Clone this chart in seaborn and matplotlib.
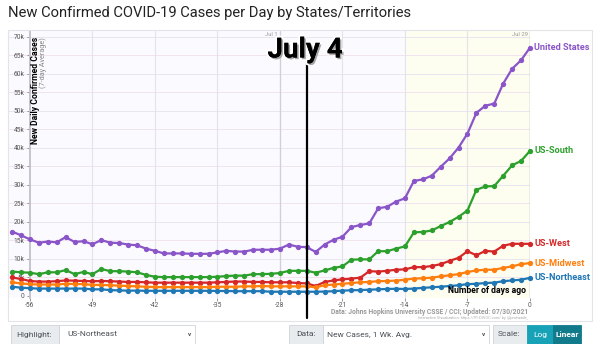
import matplotlib
matplotlib.use("Agg")
import matplotlib.pyplot as plt
import matplotlib.patheffects as pe
from matplotlib.patches import Rectangle
import numpy as np
import pandas as pd
import seaborn as sns

# ---------------- data (thousands of cases, 7-day avg) ----------------
days = list(range(-58, 1))
united_states = [17.4, 16.4, 15.3, 14.4, 14.7, 14.5, 15.9, 14.6, 14.8, 14.0,
                 15.1, 14.4, 14.3, 13.9, 13.7, 12.8, 12.2, 11.5, 11.5, 11.5,
                 11.4, 11.4, 11.4, 11.8, 12.2, 12.0, 12.0, 12.5, 12.5, 12.5,
                 12.8, 13.9, 13.3, 13.2, 11.9, 13.9, 15.2, 16.0, 18.6, 19.2,
                 19.6, 23.7, 24.1, 25.5, 26.4, 31.1, 31.5, 32.5, 34.9, 37.2,
                 40.1, 43.9, 49.5, 51.4, 52.0, 57.4, 61.4, 63.7, 67.1]
us_south = [6.6, 6.4, 6.3, 5.9, 6.4, 6.4, 7.0, 5.9, 6.5, 5.9,
            7.3, 6.7, 6.7, 6.6, 6.4, 5.7, 5.2, 5.1, 5.1, 5.1,
            5.1, 5.1, 5.1, 5.2, 5.4, 5.5, 5.5, 5.9, 5.9, 6.0,
            6.2, 6.8, 6.8, 6.8, 6.3, 6.9, 7.6, 8.0, 9.8, 9.9,
            9.9, 12.1, 12.1, 12.8, 13.4, 17.2, 17.3, 17.7, 18.9, 20.0,
            21.4, 23.1, 28.7, 29.6, 29.7, 32.5, 35.3, 36.5, 39.2]
us_west = [5.0, 4.6, 4.05, 3.9, 3.9, 4.0, 4.2, 4.15, 4.05, 4.0,
           4.05, 4.0, 3.9, 3.8, 3.8, 3.7, 3.6, 3.6, 3.6, 3.6,
           3.6, 3.6, 3.6, 3.7, 3.8, 3.9, 3.9, 3.8, 3.8, 3.7,
           3.7, 3.7, 3.5, 3.4, 2.7, 3.8, 4.2, 4.5, 4.7, 4.95,
           6.7, 6.6, 6.8, 7.1, 7.2, 7.8, 7.8, 8.1, 8.6, 9.5,
           10.3, 12.1, 11.0, 12.2, 12.0, 13.6, 14.1, 14.1, 14.1]
us_midwest = [3.7, 3.4, 3.2, 3.1, 3.1, 3.1, 3.3, 3.25, 3.2, 3.0,
              3.0, 2.9, 2.8, 2.7, 2.6, 2.5, 2.4, 2.4, 2.4, 2.4,
              2.4, 2.4, 2.4, 2.5, 2.5, 2.5, 2.6, 2.6, 2.7, 2.6,
              2.6, 2.6, 2.6, 2.6, 2.35, 2.9, 3.1, 3.3, 3.5, 3.7,
              3.8, 4.0, 4.05, 4.15, 4.4, 4.7, 4.8, 4.95, 5.3, 5.6,
              5.9, 6.5, 6.9, 7.1, 7.1, 7.6, 8.0, 8.6, 8.9]
us_northeast = [2.5, 2.25, 2.1, 2.0, 2.0, 2.0, 2.0, 2.0, 2.0, 1.8,
                1.8, 1.6, 1.5, 1.45, 1.45, 1.4, 1.4, 1.4, 1.4, 1.4,
                1.4, 1.4, 1.4, 1.35, 1.35, 1.3, 1.3, 1.3, 1.3, 1.15,
                1.15, 1.15, 1.15, 1.15, 1.15, 1.2, 1.3, 1.45, 1.55, 1.6,
                1.7, 1.8, 1.9, 1.95, 1.9, 2.0, 2.2, 2.35, 2.5, 2.7,
                2.9, 3.2, 3.3, 3.5, 3.6, 4.0, 4.2, 4.4, 4.9]
series_names = ["United States", "US-South", "US-West", "US-Midwest", "US-Northeast"]
series_values = [united_states, us_south, us_west, us_midwest, us_northeast]
series_colors = ["#8a55c8", "#2ca02c", "#d62728", "#ff7f0e", "#1f77b4"]
y_ticks = list(range(0, 75, 5))
y_tick_labels = ["0"] + [f"{v}k" for v in y_ticks[1:]]
x_ticks = [-56, -49, -42, -35, -28, -21, -14, -7, 0]

rows = []
for name, vals in zip(series_names, series_values):
    assert len(vals) == len(days)
    for d, v in zip(days, vals):
        rows.append({"day": d, "cases": v, "region": name})
df = pd.DataFrame(rows)

# ---------------- figure ----------------
sns.set_theme(style="white")
plt.rcParams["font.family"] = ["Roboto", "DejaVu Sans"]

W, H = 600, 344
fig = plt.figure(figsize=(6, 3.44), dpi=100)
fig.patch.set_facecolor("white")

def fx(px):
    return px / W

def fy(py):
    return 1 - py / H

# card outline
fig.patches.append(Rectangle((fx(8), fy(321)), fx(592) - fx(8), fy(30) - fy(321),
                             transform=fig.transFigure, facecolor="none",
                             edgecolor="#e4e4e8", lw=0.8, zorder=0))

ax_left, ax_right, ax_top, ax_bot = 8.5, 530, 31, 297.85
ax = fig.add_axes([fx(ax_left), fy(ax_bot), fx(ax_right) - fx(ax_left), fy(ax_top) - fy(ax_bot)])
ax.set_facecolor("#fbfaff")
ax.set_xlim(-58.4, 0)
ax.set_ylim(-0.5, 71.6)

# shaded last 14 days
ax.axvspan(-14, 0, color="#fdfdf0", zorder=0, lw=0)

# grid lines
for v in y_ticks[1:]:
    ax.axhline(v, color="#f2e4ee" if v % 10 else "#e8e6ee", lw=0.7, zorder=0.5)
for d in x_ticks[1:-1]:
    ax.axvline(d, color="#e4e2ea", lw=0.8, zorder=0.5)
ax.axvline(-28, color="#d0d0d6", lw=0.9, zorder=0.6)
ax.axvline(0, color="#a8a8b0", lw=1.0, zorder=0.6)

sns.lineplot(data=df, x="day", y="cases", hue="region", hue_order=series_names,
             palette=dict(zip(series_names, series_colors)), marker="o",
             markersize=3.8, markeredgewidth=0, linewidth=1.6, legend=False,
             ax=ax, clip_on=False, zorder=3)

# axes styling
for s in ["top", "right", "bottom"]:
    ax.spines[s].set_visible(False)
ax.spines["left"].set_position(("data", -56))
ax.spines["left"].set_color("#c4c4cc")
ax.spines["left"].set_linewidth(1.4)
ax.set_yticks(y_ticks)
ax.set_yticklabels(y_tick_labels)
ax.set_xticks(x_ticks)
ax.set_xticklabels([str(t) for t in x_ticks])
ax.tick_params(axis="y", length=2.5, width=0.6, colors="#888888", labelsize=4.8,
               pad=1.5, labelcolor="#555555", left=True)
ax.tick_params(axis="x", length=2.0, width=0.6, colors="#888888", labelsize=4.8,
               pad=1.0, labelcolor="#555555", bottom=True)
ax.set_xlabel("")
ax.set_ylabel("")

# y-axis titles
fig.text(fx(35), fy(37), "New Daily Confirmed Cases", rotation=90, ha="center", va="top",
         fontsize=6.2, fontweight="bold", color="black")
fig.text(fx(43), fy(37), "(7-day Average)", rotation=90, ha="center", va="top",
         fontsize=5.2, color="#888888")

# end labels
for name, vals, col in zip(series_names, series_values, series_colors):
    ax.text(0.45, vals[-1], name, color=col, fontsize=6.6, fontweight="bold",
            va="center", ha="left", clip_on=False)

# date markers
ax.text(-28.25, 71.4, "Jul 1", ha="right", va="top", fontsize=4.2, color="#999999")
ax.text(-0.25, 71.4, "Jul 29", ha="right", va="top", fontsize=4.2, color="#999999")

ax.text(-0.4, 1.55, "Number of days ago", ha="right", va="center", fontsize=6.2,
        fontweight="bold", color="black", zorder=5)

# July 4 line and label
frac_top = (ax_bot - 62) / (ax_bot - ax_top)
frac_bot = (ax_bot - 318) / (ax_bot - ax_top)
ax.axvline(-25, ymin=frac_bot, ymax=frac_top, color="black", lw=1.6, clip_on=False, zorder=6)
t = fig.text(fx(305), fy(50), "July 4", ha="center", va="center", fontsize=20,
             fontweight="bold", color="black", zorder=7)
t.set_path_effects([pe.withStroke(linewidth=3, foreground="white"),
                    pe.SimplePatchShadow(offset=(1.2, -1.2), alpha=0.35),
                    pe.Normal()])

# title
fig.text(fx(8), fy(13), "New Confirmed COVID-19 Cases per Day by States/Territories",
         ha="left", va="center", fontsize=10.6, color="#222222")

# source text
fig.text(fx(528), fy(312.5), "Data: Johns Hopkins University CSSE / CCI; Updated: 07/30/2021",
         ha="right", va="center", fontsize=4.9, color="#9a9a9a", fontweight="bold")
fig.text(fx(528), fy(318.5), "Interactive Visualization: https://91-DIVOC.com/ by @profwade_",
         ha="right", va="center", fontsize=2.8, color="#aaaaaa")

# bottom controls
def box(x0, x1, fc, ec="#ced4da"):
    fig.patches.append(Rectangle((fx(x0), fy(344)), fx(x1) - fx(x0), fy(325) - fy(344),
                                 transform=fig.transFigure, facecolor=fc, edgecolor=ec,
                                 lw=0.6, zorder=1))

cy = fy(334.5)
box(11, 59, "#e9ecef")
box(59, 195, "white")
fig.text(fx(16), cy, "Highlight:", fontsize=6, color="#495057", va="center")
fig.text(fx(67), cy, "US-Northeast", fontsize=6, color="#495057", va="center")
fig.text(fx(188), cy, "v", fontsize=4.5, color="#495057", va="center", fontweight="bold")
box(289, 323, "#e9ecef")
box(323, 489, "white")
fig.text(fx(296), cy, "Data:", fontsize=6, color="#495057", va="center")
fig.text(fx(327), cy, "New Cases, 1 Wk. Avg.", fontsize=6, color="#495057", va="center")
fig.text(fx(482), cy, "v", fontsize=4.5, color="#495057", va="center", fontweight="bold")
box(493, 527, "#e9ecef")
fig.text(fx(498), cy, "Scale:", fontsize=6, color="#495057", va="center")
box(527, 553, "#17a2b8", "#17a2b8")
box(553, 581, "#117a8b", "#117a8b")
fig.text(fx(540), cy, "Log", fontsize=6, color="white", va="center", ha="center")
fig.text(fx(567), cy, "Linear", fontsize=6, color="white", va="center", ha="center",
         fontweight="bold")

fig.savefig("out.png", dpi=100)
